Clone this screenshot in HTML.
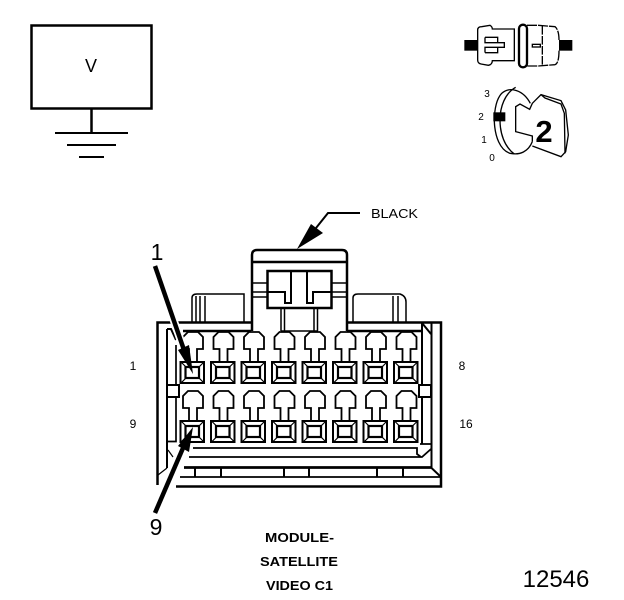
<!DOCTYPE html>
<html>
<head>
<meta charset="utf-8">
<style>
html,body{margin:0;padding:0;background:#fff;width:624px;height:600px;overflow:hidden}
svg{display:block}
text{font-family:"Liberation Sans",sans-serif;fill:#000}
</style>
</head>
<body>
<svg width="624" height="600" viewBox="0 0 624 600" xmlns="http://www.w3.org/2000/svg">
<defs>
<g id="t" fill="none" stroke="#000">
<path d="M9 0V-13H3V-25L8-30H18L23-25V-13H17V0" stroke-width="1.8"/>
<rect x="0.500" y="0" width="23.500" height="21" stroke-width="2"/>
<rect x="5.500" y="5" width="13.500" height="11" stroke-width="2.200"/>
<path d="M1 0L6 5M24 0L19 5M1 21L6 16M24 21L19 16" stroke-width="1.200"/>
</g>
</defs>
<rect width="624" height="600" fill="#fff"/>

<!-- ground box -->
<g fill="none" stroke="#000">
<rect x="31.500" y="25.500" width="120" height="83" stroke-width="2.500"/>
<path d="M91.500 109V133" stroke-width="2.500"/>
<path d="M55 133H128M67 145H116M79 157H104" stroke-width="2"/>
</g>
<text x="91" y="72" font-size="18" text-anchor="middle">V</text>

<!-- top-right icons (zoom coordinates) -->
<g transform="translate(455,10) scale(0.33333)" fill="none" stroke="#000" stroke-width="4">
<rect x="28" y="90" width="40" height="32" fill="#000" stroke="none"/>
<rect x="312" y="90" width="40" height="32" fill="#000" stroke="none"/>
<path d="M68 60Q68 50 80 50L105 46Q112 50 112 57H178V152H112Q112 164 100 166L78 162Q68 160 68 150Z"/>
<path d="M90 82H128V98H148V112H128V128H90M90 82V98H128M90 128V112H128"/>
<rect x="192" y="44" width="24" height="128" rx="12" stroke-width="7"/>
<path d="M216 46H250L300 50Q312 60 312 90M312 122Q312 160 300 164L250 168H216" stroke-dasharray="30 3"/>
<path d="M262 48V166" stroke-dasharray="26 4"/>
<rect x="232" y="103" width="24" height="8"/>
<rect x="115" y="307" width="36" height="27" fill="#000" stroke="none"/>
<path d="M226 280C205 240 165 228 140 250C122 270 118 305 118 335C120 380 135 420 165 430C195 436 220 425 232 395"/>
<path d="M182 232C150 250 135 290 135 330C135 370 148 410 178 432"/>
<path d="M232 395L232 378L182 365V290L195 282L224 298L232 280L258 254L318 272L332 300L340 375L332 425L318 440L232 408"/>
<path d="M258 254L270 264L318 282L328 310L330 430"/>
</g>
<text x="487" y="97" font-size="10" text-anchor="middle">3</text>
<text x="481" y="120" font-size="10" text-anchor="middle">2</text>
<text x="484" y="143" font-size="10" text-anchor="middle">1</text>
<text x="492" y="161" font-size="10" text-anchor="middle">0</text>
<text x="544" y="142" font-size="31" font-weight="bold" text-anchor="middle">2</text>

<!-- BLACK callout -->
<path d="M360 213H328L316 228" fill="none" stroke="#000" stroke-width="2"/>
<polygon points="297,249 311,224 323,233" fill="#000"/>
<text x="371" y="218" font-size="13" textLength="47" lengthAdjust="spacingAndGlyphs">BLACK</text>

<!-- connector -->
<g fill="none" stroke="#000">
<path d="M252 331V255Q252 250 257 250H342Q347 250 347 255V331" stroke-width="2.500"/>
<path d="M252 262H347" stroke-width="2.500"/>
<rect x="267.500" y="271" width="64" height="37" stroke-width="2.500"/>
<path d="M291 271V303H285V292H267M307 271V303H313V292H332" stroke-width="2"/>
<path d="M252 283H267M252 292H267M252 297H267M332 283H347M332 292H347M332 297H347" stroke-width="1.600"/>
<path d="M281 308V331M284.500 308V331M317.500 308V331M314 308V331M281 331H318" stroke-width="1.500"/>

<!-- latches -->
<path d="M192 322V298Q192 294 197 294H244V322M196 322V296M200 322V296M205 322V296" stroke-width="1.500"/>
<path d="M353 322V298Q353 294 358 294H400Q406 296 406 302V322M393 322V296M398 322V296" stroke-width="1.500"/>

<!-- body -->
<path d="M157.500 485V322.500H251M347 322.500H441V486.500H176" stroke-width="2.500"/>
<path d="M183 331H251M347 331H423" stroke-width="2.500"/>
<path d="M167 329V468M167 329H171L176 340M422 323V444M431.500 323V468L441 477M422 323L431 334" stroke-width="2"/>
<path d="M167 385H179V397H167ZM419 385H431V397H419Z" fill="#fff" stroke-width="2"/>
<path d="M176 345V385M176 397V441.500H167" stroke-width="1.700"/>
<path d="M193 448H417V454L421 457H422L431 449M189 457H421M420 444H431" stroke-width="1.800"/>
<path d="M184 467.500H432" stroke-width="2.800"/>
<path d="M180 477H441" stroke-width="1.800"/>
<path d="M195 467V477M221 467V477M284 467V477M309 467V477M377 467V477M403 467V477" stroke-width="2"/>
<path d="M158 475L167 468M168 450L173 457" stroke-width="1.200"/>
</g>

<!-- terminals -->
<use href="#t" x="180" y="362"/><use href="#t" x="210.500" y="362"/><use href="#t" x="241" y="362"/><use href="#t" x="271.500" y="362"/><use href="#t" x="302" y="362"/><use href="#t" x="332.500" y="362"/><use href="#t" x="363" y="362"/><use href="#t" x="393.500" y="362"/>
<use href="#t" x="180" y="421"/><use href="#t" x="210.500" y="421"/><use href="#t" x="241" y="421"/><use href="#t" x="271.500" y="421"/><use href="#t" x="302" y="421"/><use href="#t" x="332.500" y="421"/><use href="#t" x="363" y="421"/><use href="#t" x="393.500" y="421"/>

<!-- pointer arrows -->
<path d="M155 266L186 356" fill="none" stroke="#fff" stroke-width="8"/>
<path d="M155 266L184 350" fill="none" stroke="#000" stroke-width="4.500"/>
<polygon points="193,374 178,350 189,345" fill="#000"/>
<path d="M155 513L184 446" fill="none" stroke="#fff" stroke-width="8"/>
<path d="M155 513L183 448" fill="none" stroke="#000" stroke-width="4.500"/>
<polygon points="193,427 178,446 189,452" fill="#000"/>

<!-- labels -->
<text x="157" y="260" font-size="23" text-anchor="middle">1</text>
<text x="156" y="535" font-size="23" text-anchor="middle">9</text>
<text x="133" y="370" font-size="12" text-anchor="middle">1</text>
<text x="462" y="370" font-size="12" text-anchor="middle">8</text>
<text x="133" y="428" font-size="12" text-anchor="middle">9</text>
<text x="466" y="428" font-size="12" text-anchor="middle">16</text>
<text x="265" y="542" font-size="12.500" font-weight="bold" textLength="69" lengthAdjust="spacingAndGlyphs">MODULE-</text>
<text x="260" y="566" font-size="12.500" font-weight="bold" textLength="78" lengthAdjust="spacingAndGlyphs">SATELLITE</text>
<text x="266" y="590" font-size="12.500" font-weight="bold" textLength="67" lengthAdjust="spacingAndGlyphs">VIDEO C1</text>
<text x="556" y="587" font-size="24" text-anchor="middle">12546</text>
</svg>
</body>
</html>
